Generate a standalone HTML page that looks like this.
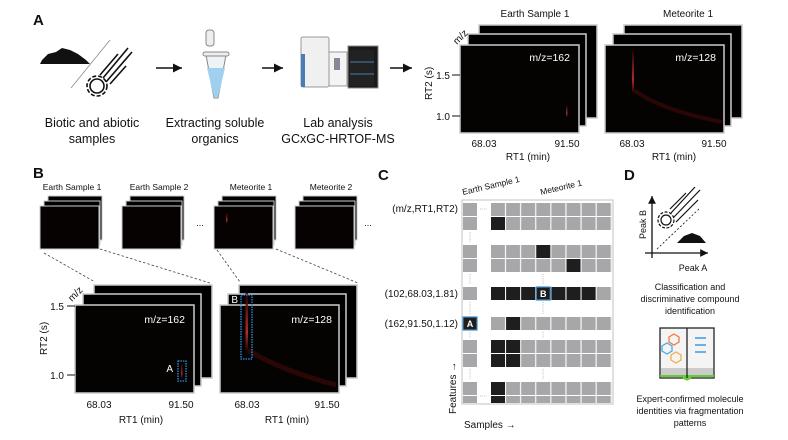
<!DOCTYPE html>
<html><head><meta charset="utf-8"><style>
html,body{margin:0;padding:0;background:#fff}
svg{display:block}
text{font-family:"Liberation Sans",Arial,sans-serif;fill:#111}
</style></head><body>
<svg width="788" height="440" viewBox="0 0 788 440" xmlns="http://www.w3.org/2000/svg">
<defs>
<marker id="ar" markerWidth="8" markerHeight="8" refX="6" refY="3" orient="auto"><path d="M0,0 L6,3 L0,6 z" fill="#111"/></marker>
<linearGradient id="pk" x1="0" y1="0" x2="0" y2="1"><stop offset="0" stop-color="#200" /><stop offset="0.7" stop-color="#c33"/><stop offset="1" stop-color="#300"/></linearGradient>
<pattern id="cells" x="491" y="0" width="15.1" height="14" patternUnits="userSpaceOnUse"><rect x="0" y="0" width="14" height="14" fill="#a7a7a9"/></pattern>
<g id="stack">
<rect x="19" y="-20" width="118" height="93" fill="#000" stroke="#ccc" stroke-width="1.5"/>
<rect x="8" y="-11" width="118" height="92" fill="#000" stroke="#ccc" stroke-width="1.5"/>
<rect x="0" y="0" width="119" height="88" fill="#050202" stroke="#ccc" stroke-width="1.5"/>
</g>
<g id="thumb">
<rect x="8" y="-10" width="54" height="44" fill="#000" stroke="#ccc"/>
<rect x="4" y="-5" width="56" height="44" fill="#000" stroke="#ccc"/>
<rect x="0" y="0" width="59" height="43" fill="#060202" stroke="#ccc"/>
</g>
</defs>

<!-- Panel A -->
<text x="33" y="25" font-size="15" font-weight="bold">A</text>
<path d="M42,60 L48,54 L56,52 L62,48 L70,50 L78,54 L86,60 L90,64 L40,64 z" fill="#111"/>
<line x1="71" y1="88" x2="110" y2="40" stroke="#888" stroke-width="0.8"/>
<g stroke="#111" stroke-width="1.6" fill="none">
<circle cx="97" cy="86" r="7"/><circle cx="97" cy="86" r="10" stroke-dasharray="4 2"/>
<line x1="103" y1="78" x2="128" y2="48"/><line x1="106" y1="82" x2="132" y2="52"/><line x1="100" y1="75" x2="118" y2="54"/><line x1="110" y1="84" x2="126" y2="66"/>
</g>
<line x1="156" y1="68" x2="182" y2="68" stroke="#111" stroke-width="1.5" marker-end="url(#ar)"/>
<line x1="262" y1="68" x2="283" y2="68" stroke="#111" stroke-width="1.5" marker-end="url(#ar)"/>
<line x1="390" y1="68" x2="412" y2="68" stroke="#111" stroke-width="1.5" marker-end="url(#ar)"/>
<!-- tube -->
<path d="M206,55 L226,55 L218,98 L214,98 z" fill="#eef3f7" stroke="#888"/>
<path d="M207,68 L225,68 L218,97 L214,97 z" fill="#9fd0ef"/>
<rect x="203" y="52" width="26" height="4" rx="2" fill="#eee" stroke="#888"/>
<rect x="206" y="30" width="8" height="16" rx="3" fill="#eee" stroke="#888"/>
<!-- instrument -->
<rect x="301" y="37" width="28" height="50" rx="2" fill="#f0f0f0" stroke="#999"/>
<rect x="301" y="54" width="4" height="33" fill="#4a7db2"/>
<rect x="329" y="52" width="18" height="34" fill="#f4f4f4" stroke="#999"/>
<rect x="334" y="58" width="6" height="12" fill="#889"/>
<rect x="348" y="46" width="30" height="42" fill="#1a1a1a" stroke="#888"/>
<rect x="350" y="50" width="24" height="36" fill="#222"/>
<line x1="350" y1="62" x2="374" y2="62" stroke="#4a7db2"/><line x1="350" y1="74" x2="374" y2="74" stroke="#4a7db2"/>
<g font-size="12.5" text-anchor="middle">
<text x="92" y="127">Biotic and abiotic</text><text x="92" y="143">samples</text>
<text x="215" y="127">Extracting soluble</text><text x="215" y="143">organics</text>
<text x="338" y="127">Lab analysis</text><text x="338" y="143">GCxGC-HRTOF-MS</text>
</g>

<!-- A plots -->
<text x="535" y="17" font-size="10" text-anchor="middle">Earth Sample 1</text>
<text x="688" y="17" font-size="10" text-anchor="middle">Meteorite 1</text>
<use href="#stack" x="460" y="45"/>
<use href="#stack" x="605" y="45"/>
<text x="0" y="0" font-size="10" transform="translate(457,45) rotate(-45)">m/z</text>
<text x="0" y="0" font-size="10" transform="translate(432,100) rotate(-90)">RT2 (s)</text>
<g font-size="10"><text x="450" y="79" text-anchor="end">1.5</text><text x="450" y="120" text-anchor="end">1.0</text></g>
<line x1="452" y1="75" x2="460" y2="75" stroke="#111"/><line x1="452" y1="116" x2="460" y2="116" stroke="#111"/>
<g font-size="10" text-anchor="middle">
<text x="484" y="147">68.03</text><text x="567" y="147">91.50</text><text x="528" y="160">RT1 (min)</text>
<text x="632" y="147">68.03</text><text x="714" y="147">91.50</text><text x="674" y="160">RT1 (min)</text>
</g>
<text x="570" y="61" font-size="10.5" text-anchor="end" style="fill:#fff">m/z=162</text>
<text x="716" y="61" font-size="10.5" text-anchor="end" style="fill:#fff">m/z=128</text>
<rect x="566" y="105" width="1.5" height="12" fill="url(#pk)" opacity="0.8"/>
<rect x="632" y="50" width="2" height="42" fill="url(#pk)" opacity="0.85"/>
<path d="M634,90 Q660,110 722,122" stroke="#2a0605" stroke-width="4" fill="none"/>

<!-- Panel B -->
<text x="33" y="178" font-size="15" font-weight="bold">B</text>
<g font-size="8.5" text-anchor="middle">
<text x="72" y="190">Earth Sample 1</text><text x="159" y="190">Earth Sample 2</text>
<text x="251" y="190">Meteorite 1</text><text x="331" y="190">Meteorite 2</text>
</g>
<use href="#thumb" x="40" y="206"/><use href="#thumb" x="122" y="206"/>
<use href="#thumb" x="214" y="206"/><use href="#thumb" x="295" y="206"/>
<rect x="226" y="213" width="1.5" height="10" fill="url(#pk)" opacity="0.8"/>
<text x="200" y="226" font-size="9" text-anchor="middle">...</text>
<text x="368" y="226" font-size="9" text-anchor="middle">...</text>
<g stroke="#444" stroke-width="0.8" stroke-dasharray="2.5 2" fill="none">
<line x1="44" y1="253" x2="95" y2="282"/><line x1="100" y1="249" x2="210" y2="283"/>
<line x1="217" y1="250" x2="240" y2="282"/><line x1="276" y1="249" x2="358" y2="283"/>
</g>
<use href="#stack" x="75" y="305"/>
<use href="#stack" x="220" y="305"/>
<text x="0" y="0" font-size="10" transform="translate(72,302) rotate(-45)">m/z</text>
<text x="0" y="0" font-size="10" transform="translate(47,355) rotate(-90)">RT2 (s)</text>
<g font-size="10"><text x="64" y="310" text-anchor="end">1.5</text><text x="64" y="379" text-anchor="end">1.0</text></g>
<line x1="67" y1="306" x2="75" y2="306" stroke="#111"/><line x1="67" y1="375" x2="75" y2="375" stroke="#111"/>
<g font-size="10" text-anchor="middle">
<text x="99" y="408">68.03</text><text x="181" y="408">91.50</text><text x="141" y="423">RT1 (min)</text>
<text x="247" y="408">68.03</text><text x="327" y="408">91.50</text><text x="287" y="423">RT1 (min)</text>
</g>
<text x="185" y="323" font-size="10.5" text-anchor="end" style="fill:#fff">m/z=162</text>
<text x="332" y="323" font-size="10.5" text-anchor="end" style="fill:#fff">m/z=128</text>
<rect x="181" y="364" width="1.5" height="14" fill="url(#pk)" opacity="0.8"/>
<rect x="245.5" y="292" width="2.5" height="58" fill="url(#pk)" opacity="0.85"/>
<path d="M248,350 Q280,370 336,385" stroke="#2a0605" stroke-width="5" fill="none"/>
<rect x="178" y="361" width="8" height="20" fill="none" stroke="#2a8fe0" stroke-width="1.3" stroke-dasharray="1.5 1"/>
<rect x="241" y="295" width="11" height="64" fill="none" stroke="#2a8fe0" stroke-width="1.3" stroke-dasharray="1.5 1"/>
<text x="173" y="372" font-size="10" text-anchor="end" style="fill:#fff">A</text>
<text x="238" y="303" font-size="10" text-anchor="end" style="fill:#fff">B</text>

<!-- Panel C -->
<text x="378" y="180" font-size="15" font-weight="bold">C</text>
<text x="0" y="0" font-size="8.5" transform="translate(463,195) rotate(-13)">Earth Sample 1</text>
<text x="0" y="0" font-size="8.5" transform="translate(541,195) rotate(-13)">Meteorite 1</text>
<rect x="462" y="200" width="151" height="204" fill="#fff" stroke="#ccc" stroke-width="1.2"/>
<g fill="#a7a7a9">
<rect x="463" y="203" width="14" height="13"/><rect x="463" y="217" width="14" height="13"/>
<rect x="463" y="245" width="14" height="13"/><rect x="463" y="259" width="14" height="13"/>
<rect x="463" y="287" width="14" height="13"/>
<rect x="463" y="340" width="14" height="13"/><rect x="463" y="354" width="14" height="13"/>
<rect x="463" y="382" width="14" height="13"/><rect x="463" y="396" width="14" height="7"/>
</g>
<g fill="url(#cells)">
<rect x="491" y="203" width="121" height="13"/><rect x="491" y="217" width="121" height="13"/>
<rect x="491" y="245" width="121" height="13"/><rect x="491" y="259" width="121" height="13"/>
<rect x="491" y="287" width="121" height="13"/><rect x="491" y="317" width="121" height="13"/>
<rect x="491" y="340" width="121" height="13"/><rect x="491" y="354" width="121" height="13"/>
<rect x="491" y="382" width="121" height="13"/><rect x="491" y="396" width="121" height="7"/>
</g>
<g fill="#1e1e1e">
<rect x="491" y="217" width="14" height="13"/>
<rect x="536.3" y="245" width="14" height="13"/>
<rect x="566.5" y="259" width="14" height="13"/>
<rect x="491" y="287" width="14" height="13"/><rect x="506.1" y="287" width="14" height="13"/><rect x="521.2" y="287" width="14" height="13"/><rect x="536.3" y="287" width="14" height="13"/><rect x="551.4" y="287" width="14" height="13"/><rect x="566.5" y="287" width="14" height="13"/><rect x="581.6" y="287" width="14" height="13"/>
<rect x="506.1" y="317" width="14" height="13"/>
<rect x="491" y="340" width="14" height="13"/><rect x="506.1" y="340" width="14" height="13"/>
<rect x="491" y="354" width="14" height="13"/><rect x="506.1" y="354" width="14" height="13"/>
<rect x="491" y="382" width="14" height="13"/><rect x="491" y="396" width="14" height="7"/>
<rect x="463" y="317" width="14" height="13"/>
</g>
<rect x="463" y="317" width="14" height="13" fill="none" stroke="#3d8fd0" stroke-width="1.2"/>
<rect x="536.3" y="287" width="14" height="13" fill="none" stroke="#3d8fd0" stroke-width="1.2"/>
<text x="470" y="327" font-size="9" font-weight="bold" text-anchor="middle" style="fill:#fff">A</text>
<text x="543.3" y="297" font-size="9" font-weight="bold" text-anchor="middle" style="fill:#fff">B</text>
<g stroke="#aaa" stroke-width="0.8" stroke-dasharray="1 1.2">
<line x1="470" y1="232" x2="470" y2="243"/><line x1="470" y1="274" x2="470" y2="285"/><line x1="470" y1="302" x2="470" y2="315"/><line x1="470" y1="332" x2="470" y2="338"/><line x1="470" y1="369" x2="470" y2="380"/>
<line x1="543" y1="274" x2="543" y2="285"/><line x1="543" y1="302" x2="543" y2="315"/><line x1="543" y1="332" x2="543" y2="338"/><line x1="543" y1="369" x2="543" y2="380"/>
<line x1="480" y1="209" x2="487" y2="209"/><line x1="480" y1="396" x2="487" y2="396"/>
</g>
<g font-size="10" text-anchor="end">
<text x="458" y="212">(m/z,RT1,RT2)</text>
<text x="458" y="297">(102,68.03,1.81)</text>
<text x="458" y="327">(162,91.50,1.12)</text>
</g>
<text x="0" y="0" font-size="10" transform="translate(456,414) rotate(-90)">Features →</text>
<text x="464" y="428" font-size="10">Samples →</text>

<!-- Panel D -->
<text x="624" y="180" font-size="15" font-weight="bold">D</text>
<line x1="652" y1="258" x2="652" y2="196" stroke="#111" stroke-width="1.3" marker-end="url(#ar)"/>
<line x1="645" y1="253" x2="708" y2="253" stroke="#111" stroke-width="1.3" marker-end="url(#ar)"/>
<line x1="657" y1="249" x2="700" y2="208" stroke="#111" stroke-width="0.8" stroke-dasharray="2 2"/>
<path d="M677,243 L684,236 L692,233 L700,236 L706,243 z" fill="#111"/>
<g stroke="#111" stroke-width="1.2" fill="none">
<circle cx="666" cy="220" r="5"/><circle cx="666" cy="220" r="8" stroke-dasharray="3 1.5"/>
<line x1="671" y1="213" x2="695" y2="187"/><line x1="674" y1="217" x2="700" y2="190"/><line x1="676" y1="222" x2="698" y2="200"/><line x1="670" y1="209" x2="686" y2="193"/>
</g>
<text x="0" y="0" font-size="9" transform="translate(646,239) rotate(-90)">Peak B</text>
<text x="693" y="271" font-size="9" text-anchor="middle">Peak A</text>
<g font-size="9" text-anchor="middle">
<text x="690" y="290">Classification and</text>
<text x="690" y="302">discriminative compound</text>
<text x="690" y="314">identification</text>
<text x="690" y="402">Expert-confirmed molecule</text>
<text x="690" y="414">identities via fragmentation</text>
<text x="690" y="426">patterns</text>
</g>
<rect x="660" y="328" width="54" height="50" fill="#f4f4f4" stroke="#222" stroke-width="1.3"/>
<rect x="661" y="368" width="52" height="8" fill="#ccc"/>
<line x1="660" y1="376" x2="714" y2="376" stroke="#6c3" stroke-width="2"/>
<path d="M682,377 Q687,384 692,377" fill="#6c3"/>
<line x1="687" y1="328" x2="687" y2="378" stroke="#222" stroke-width="1.3"/>
<g stroke="#3a9ae6" stroke-width="1.5"><line x1="695" y1="338" x2="706" y2="338"/><line x1="695" y1="345" x2="706" y2="345"/><line x1="695" y1="352" x2="706" y2="352"/></g>
<g fill="none" stroke-width="1.3">
<polygon points="674,334 679,337 679,342 674,345 669,342 669,337" stroke="#f07a3a"/>
<polygon points="667,343 672,346 672,351 667,354 662,351 662,346" stroke="#4aaee0"/>
<polygon points="676,352 681,355 681,360 676,363 671,360 671,355" stroke="#f0b040"/>
</g>
</svg>
</body></html>
